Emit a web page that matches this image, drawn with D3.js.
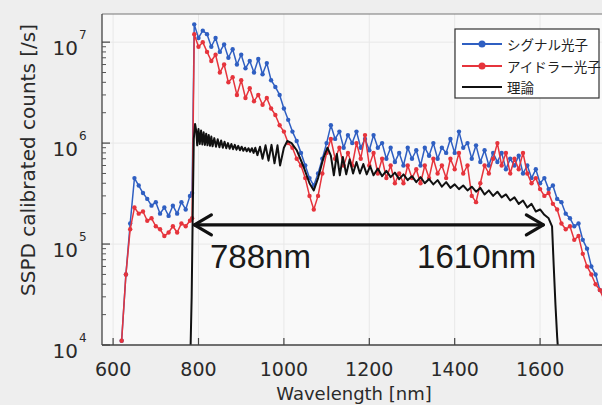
<!DOCTYPE html>
<html><head><meta charset="utf-8">
<script src="https://cdn.jsdelivr.net/npm/d3@7"></script>
<style>
html,body{margin:0;padding:0;background:#eeeeee;}
svg{display:block;}
</style></head><body>
<svg id="c" width="602" height="405"></svg>
<script>
const wavelengths = [
 620,630,640,650,660,670,680,690,700,710,
 720,730,740,750,760,770,780,785,790,800,
 810,820,830,840,850,860,870,880,890,900,
 910,920,930,940,950,960,970,980,990,1000,
 1010,1020,1030,1040,1050,1060,1070,1080,1090,1100,
 1110,1120,1130,1140,1150,1160,1170,1180,1190,1200,
 1210,1220,1230,1240,1250,1260,1270,1280,1290,1300,
 1310,1320,1330,1340,1350,1360,1370,1380,1390,1400,
 1410,1420,1430,1440,1450,1460,1470,1480,1490,1500,
 1510,1520,1530,1540,1550,1560,1570,1580,1590,1600,
 1610,1620,1630,1640,1650,1660,1670,1680,1690,1700,
 1710,1720,1730,1740,1750];
const signalCounts = [
 1.1e4,5e4,1.6e5,4.5e5,3.8e5,3.2e5,2.8e5,2.4e5,2.6e5,2.0e5,
 2.3e5,1.9e5,2.4e5,2.0e5,2.6e5,2.2e5,3.0e5,3.2e5,1.5e7,1.1e7,
 1.3e7,1.2e7,9e6,1.1e7,8e6,9.5e6,7e6,8.5e6,6e6,7.5e6,
 5.5e6,6.5e6,5e6,6.8e6,4.8e6,6.2e6,4.2e6,3.6e6,3.0e6,2.2e6,
 1.7e6,1.3e6,1.05e6,8e5,6e5,4.5e5,3.8e5,5e5,7e5,1.0e6,
 1.5e6,1.1e6,1.3e6,9e5,1.2e6,1.0e6,1.3e6,9e5,1.1e6,8.5e5,
 1.2e6,9e5,1.0e6,7e5,9e5,6.5e5,8e5,6e5,9e5,7e5,
 8.5e5,6e5,9e5,7.5e5,1.0e6,7e5,9e5,8e5,1.1e6,8e5,
 1.3e6,9e5,1.0e6,7e5,9.5e5,6.5e5,8.5e5,6e5,8e5,6.5e5,
 8e5,5.5e5,7e5,6e5,7.5e5,5e5,6e5,4.5e5,5.5e5,4e5,
 4.5e5,3.5e5,3.8e5,2.8e5,2.6e5,2e5,1.8e5,1.5e5,1.6e5,1.1e5,
 9e4,6e4,5e4,3.5e4,3e4];
const idlerCounts = [
 1.1e4,5e4,1.4e5,2.3e5,2.0e5,2.1e5,1.7e5,1.8e5,1.5e5,1.4e5,
 1.2e5,1.3e5,1.5e5,1.3e5,1.6e5,1.5e5,1.7e5,1.8e5,1.2e7,9e6,
 1.0e7,8e6,6.5e6,7.5e6,5e6,6e6,4e6,4.5e6,3e6,4.2e6,
 2.8e6,3.5e6,2.6e6,3e6,2.4e6,2.8e6,2.2e6,1.9e6,1.5e6,1.3e6,
 1.0e6,9e5,7e5,6e5,4.5e5,3e5,2.2e5,3e5,5e5,8e5,
 1.1e6,7e5,9e5,6e5,8e5,6e5,1.0e6,7e5,1.2e6,6e5,
 8e5,5e5,7e5,4.5e5,6e5,4e5,5e5,4e5,6e5,4.5e5,
 5.5e5,4e5,6e5,4.5e5,7e5,5e5,6e5,4.5e5,7e5,5.5e5,
 8e5,5e5,6e5,3e5,2.6e5,4e5,6e5,5e5,7e5,1.0e6,
 6e5,8e5,5e5,7e5,5.5e5,8e5,5e5,4e5,4.5e5,3.5e5,
 3e5,3.2e5,2.5e5,2.2e5,1.6e5,1.4e5,1.5e5,1.1e5,1.2e5,8e4,
 6e4,5e4,4e4,3.5e4,2.8e4];
const theoryWl = [
 780,784,787,789,792,795,797,800,803,806,
 809,812,815,818,821,824,827,830,833,837,
 841,845,849,853,857,861,865,869,873,877,
 881,885,889,893,897,901,905,909,913,917,
 921,925,929,933,938,944,950,957,964,971,
 978,985,991,1000,1008,1018,1030,1045,1060,1070,
 1080,1092,1102,1110,1117,1124,1131,1138,1146,1154,
 1162,1170,1178,1186,1194,1202,1210,1220,1230,1240,
 1250,1260,1270,1280,1290,1300,1310,1320,1330,1340,
 1350,1360,1370,1380,1390,1400,1410,1420,1430,1440,
 1450,1460,1470,1480,1490,1500,1510,1520,1530,1540,
 1550,1560,1570,1580,1590,1600,1610,1620,1628,1632,
 1636,1640,1645];
const theoryCounts = [
 5e3,3e4,3e5,1.1e6,1.55e6,1.3e6,9.5e5,1.38e6,9.8e5,1.33e6,
 9.7e5,1.28e6,9.6e5,1.24e6,9.5e5,1.2e6,9.4e5,1.16e6,9.3e5,1.12e6,
 9.2e5,1.09e6,9.1e5,1.06e6,9.0e5,1.03e6,8.9e5,1.0e6,8.8e5,9.8e5,
 8.7e5,9.6e5,8.6e5,9.4e5,8.5e5,9.2e5,8.4e5,9.0e5,8.3e5,8.9e5,
 8.2e5,8.9e5,8.0e5,9.0e5,7.6e5,9.2e5,7.0e5,9.5e5,6.7e5,9.6e5,
 6.3e5,9.5e5,6.0e5,9.0e5,1.05e6,1.0e6,8.5e5,6e5,4e5,3.4e5,
 4.5e5,7e5,9e5,7.5e5,4.8e5,7.8e5,4.8e5,7.3e5,4.9e5,6.9e5,
 5e5,6.5e5,5e5,6.2e5,4.9e5,5.9e5,4.8e5,5.6e5,4.7e5,5.3e5,
 4.6e5,5.1e5,4.4e5,4.9e5,4.3e5,4.7e5,4.1e5,4.6e5,4.0e5,4.4e5,
 3.9e5,4.3e5,3.7e5,4.1e5,3.6e5,3.9e5,3.5e5,3.8e5,3.4e5,3.7e5,
 3.3e5,3.6e5,3.1e5,3.4e5,3.0e5,3.3e5,2.9e5,3.1e5,2.7e5,2.9e5,
 2.5e5,2.7e5,2.3e5,2.5e5,2.1e5,2.2e5,1.95e5,1.8e5,1.5e5,6e4,
 2.5e4,1.2e4,6e3];
const xTickValues = [600,800,1000,1200,1400,1600];
const yTickExponents = [4,5,6,7];
const seriesNames = ["シグナル光子","アイドラー光子","理論"];
const seriesColors = ["#2f5fc2","#e6343c","#111111"];
const bandEdges = [788,1610];
const bandLevel = 1.55e5;
const bandLabels = ["788nm","1610nm"];
const bandLabelWl = [827,1312];
const bandLabelLevel = 5.8e4;

const svg = d3.select("#c");
const L=102, T=14, R=603, B=345;
const x = d3.scaleLinear().domain([574,1745]).range([L,602]);
const y = d3.scaleLog().domain([1e4,1.9e7]).range([B,T]);

svg.append("rect").attr("x",L).attr("y",T).attr("width",R-L).attr("height",B-T).attr("fill","#f9f9f9");
svg.append("defs").append("clipPath").attr("id","clip")
  .append("rect").attr("x",L).attr("y",T).attr("width",R-L).attr("height",B-T);

// grid
const g = svg.append("g");
g.selectAll("line.gx").data(xTickValues).join("line")
  .attr("x1",d=>x(d)).attr("x2",d=>x(d)).attr("y1",T).attr("y2",B)
  .attr("stroke","#e8e8e8").attr("stroke-width",1);
g.selectAll("line.gy").data(yTickExponents).join("line")
  .attr("y1",d=>y(Math.pow(10,d))).attr("y2",d=>y(Math.pow(10,d))).attr("x1",L).attr("x2",R)
  .attr("stroke","#e8e8e8").attr("stroke-width",1);

const plot = svg.append("g").attr("clip-path","url(#clip)");
const line = d3.line().x(d=>x(d[0])).y(d=>y(d[1]));

function drawSeries(vals, color){
  const pts = wavelengths.map((w,i)=>[w,vals[i]]);
  plot.append("path").datum(pts).attr("d",line).attr("fill","none")
    .attr("stroke",color).attr("stroke-width",1.5).attr("stroke-linejoin","round");
  plot.append("g").selectAll("circle").data(pts).join("circle")
    .attr("cx",d=>x(d[0])).attr("cy",d=>y(d[1])).attr("r",2.2).attr("fill",color);
}
drawSeries(signalCounts, seriesColors[0]);
drawSeries(idlerCounts, seriesColors[1]);
const tpts = theoryWl.map((w,i)=>[w,theoryCounts[i]]);
plot.append("path").datum(tpts).attr("d",line).attr("fill","none")
  .attr("stroke",seriesColors[2]).attr("stroke-width",2).attr("stroke-linejoin","round");

// frame
svg.append("line").attr("x1",L).attr("x2",R).attr("y1",T).attr("y2",T).attr("stroke","#777").attr("stroke-width",1.2);
svg.append("line").attr("x1",L).attr("x2",L).attr("y1",T).attr("y2",B).attr("stroke","#444").attr("stroke-width",1.3);
svg.append("line").attr("x1",L).attr("x2",R).attr("y1",B).attr("y2",B).attr("stroke","#444").attr("stroke-width",1.3);

// x ticks
const xa = svg.append("g");
xa.selectAll("line").data(xTickValues).join("line")
  .attr("x1",d=>x(d)).attr("x2",d=>x(d)).attr("y1",B).attr("y2",B-7)
  .attr("stroke","#444").attr("stroke-width",1.2);
xa.selectAll("text").data(xTickValues).join("text")
  .attr("x",d=>x(d)).attr("y",376).attr("text-anchor","middle")
  .attr("font-family","DejaVu Sans, Verdana, sans-serif").attr("font-size",19).attr("fill","#2a2a2a")
  .text(d=>d);

// y ticks
const ya = svg.append("g");
const minor = [];
yTickExponents.forEach(e=>{ for(let k=2;k<=9;k++){ const v=k*Math.pow(10,e); if(v<1.9e7) minor.push(v);} });
ya.selectAll("line.mi").data(minor).join("line")
  .attr("x1",L).attr("x2",L+4).attr("y1",d=>y(d)).attr("y2",d=>y(d))
  .attr("stroke","#555").attr("stroke-width",1);
ya.selectAll("line.ma").data(yTickExponents).join("line")
  .attr("x1",L).attr("x2",L+8).attr("y1",d=>y(Math.pow(10,d))).attr("y2",d=>y(Math.pow(10,d)))
  .attr("stroke","#444").attr("stroke-width",1.2);
yTickExponents.forEach(e=>{
  const yy = y(Math.pow(10,e));
  svg.append("text").attr("x",78).attr("y",yy+13).attr("text-anchor","end")
    .attr("font-family","DejaVu Sans, Verdana, sans-serif").attr("font-size",20).attr("fill","#2a2a2a").text("10");
  svg.append("text").attr("x",79).attr("y",yy-3).attr("text-anchor","start")
    .attr("font-family","DejaVu Sans, Verdana, sans-serif").attr("font-size",12).attr("fill","#2a2a2a").text(e);
});

// axis titles
svg.append("text").attr("transform","translate(35,160) rotate(-90)").attr("text-anchor","middle")
  .attr("font-family","DejaVu Sans, Verdana, sans-serif").attr("font-size",20).attr("fill","#2a2a2a")
  .text("SSPD calibrated counts [/s]");
svg.append("text").attr("x",354).attr("y",400).attr("text-anchor","middle")
  .attr("font-family","DejaVu Sans, Verdana, sans-serif").attr("font-size",18).attr("fill","#2a2a2a")
  .text("Wavelength [nm]");

// annotation arrow
const ay = y(bandLevel), ax0 = x(bandEdges[0]), ax1 = x(bandEdges[1]);
const ann = svg.append("g").attr("stroke","#111").attr("stroke-width",3.2).attr("fill","none").attr("stroke-linecap","round").attr("stroke-linejoin","round");
ann.append("line").attr("x1",ax0+1).attr("x2",ax1-1).attr("y1",ay).attr("y2",ay);
ann.append("path").attr("d",`M${ax0+18},${ay-10} L${ax0+1},${ay} L${ax0+18},${ay+10}`);
ann.append("path").attr("d",`M${ax1-18},${ay-10} L${ax1-1},${ay} L${ax1-18},${ay+10}`);
bandLabels.forEach((t,i)=>{
  svg.append("text").attr("x",x(bandLabelWl[i])).attr("y",y(bandLabelLevel))
    .attr("font-family","Liberation Sans, Arial, sans-serif").attr("font-size",33).attr("fill","#1a1a1a").text(t);
});

// legend
const lg = svg.append("g");
lg.append("rect").attr("x",455).attr("y",29).attr("width",144).attr("height",69)
  .attr("fill","#ffffff").attr("stroke","#333").attr("stroke-width",1.2);
const rows=[44,66,87];
seriesNames.forEach((n,i)=>{
  lg.append("line").attr("x1",462).attr("x2",502).attr("y1",rows[i]).attr("y2",rows[i])
    .attr("stroke",seriesColors[i]).attr("stroke-width",i<2?1.8:2);
  if(i<2) lg.append("circle").attr("cx",482).attr("cy",rows[i]).attr("r",3.5).attr("fill",seriesColors[i]);
  lg.append("text").attr("x",507).attr("y",rows[i]).attr("dominant-baseline","central")
    .attr("font-family","Noto Sans CJK JP, sans-serif").attr("font-size",13.5).attr("fill","#222").text(n);
});
</script>
</body></html>
